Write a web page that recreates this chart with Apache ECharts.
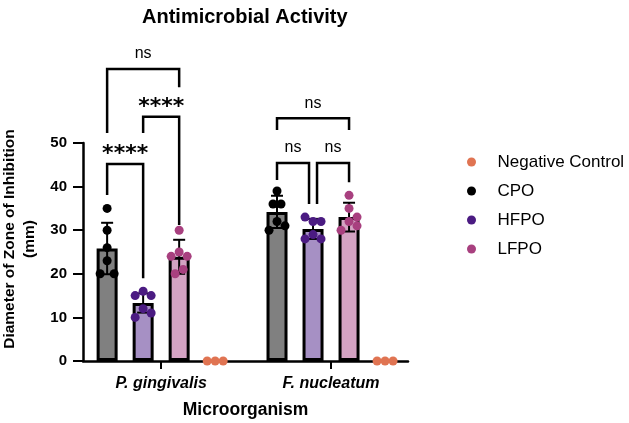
<!DOCTYPE html>
<html lang="en">
<head>
    <meta charset="UTF-8">
    <title>Antimicrobial Activity</title>
    <script src="https://cdn.jsdelivr.net/npm/echarts@6/dist/echarts.min.js"></script>
    <style>
        html,body{margin:0;padding:0;background:#fff}
        #main{width:629px;height:423px}
    </style>
</head>
<body>
<div id="main"></div>
<script>
    // data
    var organisms = ['P. gingivalis', 'F. nucleatum'];
    var cpoPts  = [[35, 30, 26, 23, 20, 20], [39, 36, 36, 32, 30, 31]];
    var hfpoPts = [[15, 16, 15, 12, 10, 11], [33, 32, 32, 29, 28, 28]];
    var lfpoPts = [[30, 25, 24, 24, 20, 21], [38, 35, 33, 32, 31, 30]];
    var negPts  = [[0, 0, 0], [0, 0, 0]];
    var cpoMean  = [25.8, 34.2];
    var hfpoMean = [13.3, 30.3];
    var lfpoMean = [23.9, 33.0];
    var cpoSd  = [5.9, 3.7];
    var hfpoSd = [2.2, 2.3];
    var lfpoSd = [3.9, 3.3];
    // comparisons: group, bar a, bar b, bracket top, leg ends, label
    var compGroup = [0, 0, 0, 1, 1, 1];
    var compA     = [0, 1, 0, 0, 0, 1];
    var compB     = [1, 2, 2, 2, 1, 2];
    var compTop   = [45.2, 56.0, 67.0, 55.7, 45.4, 45.4];
    var compEndA  = [38.1, 52.3, 52.3, 53.0, 41.5, 36.0];
    var compEndB  = [19.0, 31.2, 62.8, 53.0, 36.0, 41.0];
    var compText  = ['****', '****', 'ns', 'ns', 'ns', 'ns'];

    // layout
    var slot = [-0.318, -0.106, 0.106, 0.318];   // CPO, HFPO, LFPO, Negative Control
    var unit = 170;                               // px per group on the x scale
    var jit = [
        [[0, 0, 0, 0, -7, 7], [0, -4, 4, 0, -8, 8]],
        [[-8, 0, 8, 0, -8, 8], [-8, 0, 8, 0, -8, 8]],
        [[0, 0, -8, 8, -4, 4], [0, 0, 8, 0, 8, -8]],
        [[-8, 0, 8], [-8, 0, 8]]
    ];
    var legNudge = [[0, 0], [0, 0], [0, 0], [0, 0], [0, -4], [4, 0]];

    var barFill = ['#808080', '#a690c4', '#d4a3c3'];
    var dotCol = ['#000000', '#4b1b82', '#a8407f', '#e07452'];
    var font = '"Liberation Sans", Arial, sans-serif';

    function pts(arr, k) {
        var out = [];
        for (var g = 0; g < arr.length; g++) {
            for (var i = 0; i < arr[g].length; i++) {
                out.push([g + slot[k] + jit[k][g][i] / unit, arr[g][i]]);
            }
        }
        return out;
    }

    var bars = [], errs = [];
    var means = [cpoMean, hfpoMean, lfpoMean], sds = [cpoSd, hfpoSd, lfpoSd];
    for (var g = 0; g < organisms.length; g++) {
        for (var k = 0; k < 3; k++) {
            bars.push({value: [g + slot[k], means[k][g]], itemStyle: {color: barFill[k]}});
            errs.push([g + slot[k], means[k][g], sds[k][g]]);
        }
    }
    var comps = [];
    for (var c = 0; c < compTop.length; c++) {
        comps.push([compGroup[c] + slot[compA[c]], compGroup[c] + slot[compB[c]],
            compTop[c], compEndA[c], compEndB[c]]);
    }

    var chart = echarts.init(document.getElementById('main'));
    chart.setOption({
        backgroundColor: '#fff',
        animation: false,
        title: {
            text: 'Antimicrobial Activity',
            left: 137, top: 2,
            textStyle: {fontFamily: font, fontSize: 20, fontWeight: 'bold', color: '#000'}
        },
        legend: {
            orient: 'vertical',
            left: 462, top: 148,
            icon: 'circle',
            itemWidth: 42, itemHeight: 9, itemGap: 11,
            data: ['Negative Control', 'CPO', 'HFPO', 'LFPO'],
            textStyle: {fontFamily: font, fontSize: 17, color: '#000', lineHeight: 18}
        },
        grid: {left: 83, right: 221, top: 143, bottom: 62, containLabel: false, outerBoundsMode: 'none'},
        xAxis: {
            type: 'value',
            min: -0.46, max: 1.453,
            splitLine: {show: false},
            axisLine: {show: true, onZero: false, lineStyle: {color: '#000', width: 2.5}},
            axisTick: {show: true, customValues: [0, 1], length: 8, lineStyle: {color: '#000', width: 2}},
            axisLabel: {
                customValues: [0, 1], margin: 15,
                formatter: function (v) { return organisms[Math.round(v)]; },
                fontFamily: font, fontSize: 16, fontWeight: 'bold', fontStyle: 'italic', color: '#000'
            },
            name: 'Microorganism', nameLocation: 'middle', nameGap: 40,
            nameTextStyle: {fontFamily: font, fontSize: 17.5, fontWeight: 'bold', color: '#000'}
        },
        yAxis: {
            type: 'value',
            min: 0, max: 50, interval: 10,
            splitLine: {show: false},
            axisLine: {show: true, onZero: false, lineStyle: {color: '#000', width: 2.5}},
            axisTick: {show: true, length: 10, lineStyle: {color: '#000', width: 2}},
            axisLabel: {margin: 16, fontFamily: font, fontSize: 15, fontWeight: 'bold', color: '#000'},
            name: 'Diameter of Zone of Inhibition\n(mm)', nameLocation: 'middle', nameGap: 36,
            nameTextStyle: {fontFamily: font, fontSize: 15.5, fontWeight: 'bold', color: '#000',
                lineHeight: 20, padding: [0, 0, 0, 26]}
        },
        series: [
            {
                type: 'bar', data: bars, barWidth: 21, z: 2,
                itemStyle: {borderColor: '#000', borderWidth: 3}
            },
            {
                type: 'custom', data: errs, z: 3, clip: false,
                renderItem: function (params, api) {
                    var x = api.value(0), m = api.value(1), s = api.value(2);
                    var t = api.coord([x, m + s]), b = api.coord([x, m - s]);
                    var st = {stroke: '#000', lineWidth: 2};
                    return {type: 'group', children: [
                        {type: 'line', shape: {x1: t[0], y1: t[1], x2: b[0], y2: b[1]}, style: st},
                        {type: 'line', shape: {x1: t[0] - 6, y1: t[1], x2: t[0] + 6, y2: t[1]}, style: st},
                        {type: 'line', shape: {x1: b[0] - 6, y1: b[1], x2: b[0] + 6, y2: b[1]}, style: st}
                    ]};
                }
            },
            {name: 'CPO', type: 'scatter', data: pts(cpoPts, 0), symbolSize: 9, z: 4, clip: false,
                itemStyle: {color: dotCol[0], opacity: 1}},
            {name: 'HFPO', type: 'scatter', data: pts(hfpoPts, 1), symbolSize: 9, z: 4, clip: false,
                itemStyle: {color: dotCol[1], opacity: 1}},
            {name: 'LFPO', type: 'scatter', data: pts(lfpoPts, 2), symbolSize: 9, z: 4, clip: false,
                itemStyle: {color: dotCol[2], opacity: 1}},
            {name: 'Negative Control', type: 'scatter', data: pts(negPts, 3), symbolSize: 9, z: 4, clip: false,
                itemStyle: {color: dotCol[3], opacity: 1}},
            {
                type: 'custom', data: comps, z: 5, clip: false,
                renderItem: function (params, api) {
                    var i = params.dataIndex;
                    var a = api.coord([api.value(0), api.value(2)]);
                    var b = api.coord([api.value(1), api.value(2)]);
                    var ea = api.coord([api.value(0), api.value(3)]);
                    var eb = api.coord([api.value(1), api.value(4)]);
                    var xa = a[0] + legNudge[i][0], xb = b[0] + legNudge[i][1];
                    var stars = compText[i] !== 'ns';
                    return {type: 'group', children: [
                        {type: 'polyline', shape: {points: [[xa, ea[1]], [xa, a[1]], [xb, b[1]], [xb, eb[1]]]},
                            style: {stroke: '#000', lineWidth: 2.5, fill: null}},
                        {type: 'text', x: (xa + xb) / 2, y: a[1] - (stars ? 10 : 15),
                            style: {text: compText[i], align: 'center', verticalAlign: 'middle',
                                fill: '#000',
                                font: stars ? 'bold 22px "DejaVu Sans", sans-serif' : '16px ' + font}}
                    ]};
                }
            }
        ]
    });
</script>
</body>
</html>
